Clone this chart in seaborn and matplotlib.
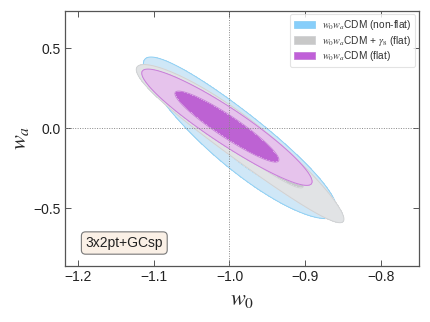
import numpy as np
import matplotlib
matplotlib.use("Agg")
import matplotlib.pyplot as plt
from matplotlib.patches import Patch
import seaborn as sns

# ---- contour parameters ----
# each contour: w0 spread (mean, sigma), a curved ridge wa = a + b*(w0+1) + c*(w0+1)^2
# and the conditional width of wa around that ridge
labels = [r"$w_0w_a$CDM (non-flat)", r"$w_0w_a$CDM + $\gamma_8$ (flat)", r"$w_0w_a$CDM (flat)"]
mean_w0 = [-0.9858, -0.986, -1.0034]
sigma_w0 = [0.0514, 0.0551, 0.0452]
ridge_a = [-0.035, -0.010, 0.002]
ridge_b = [-3.624, -3.351, -3.02]
ridge_c = [1.96, -2.325, -0.56]
width_wa = [0.087, 0.0635, 0.053]

# fill colours (inner 68%, outer 95%), edge colours, legend colours
fill_inner = ["#cfe7f7", "#c6c9cb", "#bd62d3"]
fill_outer = ["#cfe7f7", "#e1e3e5", "#e6c3ec"]
edge_col = ["#8fd0f4", "#d0d2d4", "#c77fd8"]
legend_col = ["#87cefa", "#c8c8c8", "#c060d8"]

sns.set_style("ticks")
plt.rcParams["font.family"] = ["Liberation Sans", "DejaVu Sans"]
plt.rcParams["mathtext.fontset"] = "stix"
plt.rcParams["xtick.direction"] = "in"
plt.rcParams["ytick.direction"] = "in"

fig = plt.figure(figsize=(4.3, 3.22), dpi=100)
ax = fig.add_axes([0.1512, 0.1748, 0.8232, 0.792])

w0 = np.linspace(-1.25, -0.7, 600)
wa = np.linspace(-0.9, 0.8, 600)
X, Y = np.meshgrid(w0, wa)

for i in range(len(labels)):
    u = X + 1.0
    ridge = ridge_a[i] + ridge_b[i] * u + ridge_c[i] * u**2
    chi2 = ((X - mean_w0[i]) / sigma_w0[i])**2 + ((Y - ridge) / width_wa[i])**2
    ax.contourf(X, Y, chi2, levels=[0, 2.30, 6.18],
                colors=[fill_inner[i], fill_outer[i]], zorder=2 + i)
    ax.contour(X, Y, chi2, levels=[2.30, 6.18], colors=edge_col[i],
               linewidths=0.7, zorder=2 + i)

# fiducial lines
ax.axvline(-1.0, color="#888888", ls=(0, (1, 1.5)), lw=0.7, zorder=10)
ax.axhline(0.0, color="#888888", ls=(0, (1, 1.5)), lw=0.7, zorder=10)

ax.set_xlim(-1.217, -0.75)
ax.set_ylim(-0.86, 0.735)
ax.set_xticks([-1.2, -1.1, -1.0, -0.9, -0.8])
ax.set_yticks([-0.5, 0.0, 0.5])
fmt = matplotlib.ticker.FuncFormatter(lambda v, p: f"{v:.1f}".replace("-", "\u2212"))
ax.xaxis.set_major_formatter(fmt)
ax.yaxis.set_major_formatter(fmt)
ax.tick_params(top=True, right=True, length=4, width=0.7, color="#555555",
               labelsize=10, labelcolor="#222222", pad=3)
for s in ax.spines.values():
    s.set_color("#555555")
    s.set_linewidth(0.9)

ax.set_xlabel(r"$w_0$", fontsize=16, labelpad=4)
ax.set_ylabel(r"$w_a$", fontsize=16, labelpad=2)

handles = [Patch(facecolor=legend_col[i], edgecolor=edge_col[i], lw=0.6) for i in range(3)]
leg = ax.legend(handles, labels, loc="upper right", fontsize=7.3, frameon=True,
                fancybox=True, borderpad=0.4, handlelength=2.1, handleheight=0.7,
                labelspacing=0.12, handletextpad=0.7, borderaxespad=0.35)
leg.get_frame().set_edgecolor("#dddddd")
leg.get_frame().set_linewidth(0.8)
leg.set_zorder(20)
for t in leg.get_texts():
    t.set_color("#333333")

ax.text(0.058, 0.089, "3x2pt+GCsp", transform=ax.transAxes, fontsize=10,
        color="#222222", ha="left", va="center", zorder=20,
        bbox=dict(boxstyle="round,pad=0.3", facecolor="#faf0e6", edgecolor="#777777", lw=0.8))

fig.savefig("out.png", dpi=100)
